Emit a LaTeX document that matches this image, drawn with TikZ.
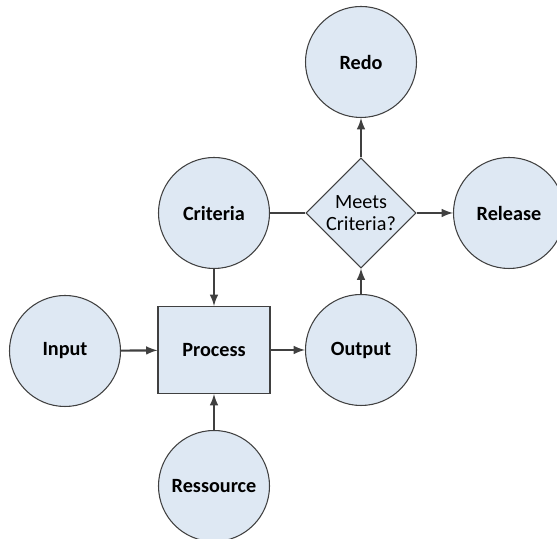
\documentclass[tikz,border=0pt]{standalone}
\usepackage{fontspec}
\setmainfont{Carlito}
\usepackage{tikz}
\usetikzlibrary{arrows}
\usetikzlibrary{positioning}
\usetikzlibrary{shapes.geometric}
\definecolor{mfill}{RGB}{222, 232, 243}
\definecolor{mline}{RGB}{64, 64, 64}

\tikzset{
  stage/.style={circle, draw=mline, fill=mfill, line width=0.6pt,
    minimum size=2.22cm, inner sep=0pt, font=\fontsize{11.5}{12.5}\selectfont\bfseries},
  box/.style={rectangle, draw=mline, fill=mfill, line width=0.6pt,
    minimum width=2.24cm, minimum height=1.74cm, font=\fontsize{11.5}{12.5}\selectfont\bfseries},
  check/.style={diamond, draw=mline, fill=mfill, line width=0.6pt, align=center,
    minimum size=2.2cm, inner sep=-1.5pt, font=\fontsize{11.5}{12.5}\selectfont},
  flow/.style={draw=mline, line width=1.2pt, -latex},
  link/.style={draw=mline, line width=1.2pt}
}

\begin{document}
\begin{tikzpicture}

    \useasboundingbox (0, 0) rectangle (11.14, 10.78);

    \node [box] (process) at (4.28, 3.78) {Process};
    \node [stage] (input) at (1.30, 3.76) {Input};
    \node [stage] (output) at (7.22, 3.78) {Output};
    \node [stage] (criteria) at (4.28, 6.52) {Criteria};
    \node [stage] (ressource) at (4.28, 1.06) {Ressource};
    \node [check] (meets) at (7.22, 6.52) {Meets\\Criteria?};
    \node [stage] (redo) at (7.22, 9.54) {Redo};
    \node [stage] (release) at (10.18, 6.52) {Release};

    \draw [flow] (input) -- (process);
    \draw [flow] (criteria) -- (process);
    \draw [flow] (ressource) -- (process);
    \draw [flow] (process) -- (output);
    \draw [flow] (output) -- (meets);
    \draw [link] (criteria) -- (meets);
    \draw [flow] (meets) -- (redo);
    \draw [flow] (meets) -- (release);

  \end{tikzpicture}
\end{document}
